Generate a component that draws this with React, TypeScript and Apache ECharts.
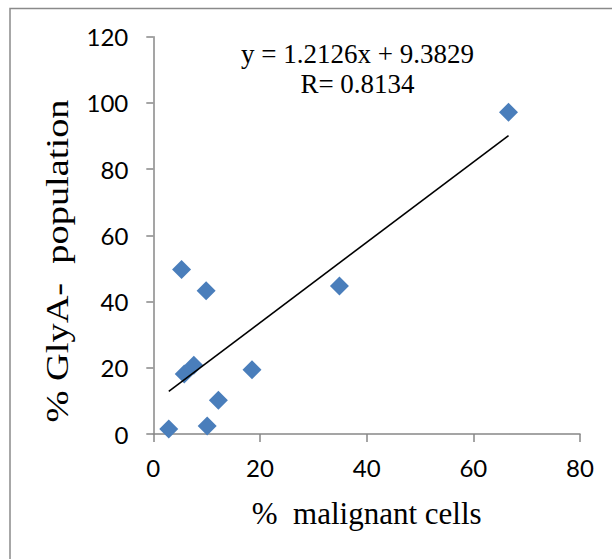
import React, { useEffect, useRef } from "react";
import * as echarts from "echarts";

// % malignant cells (x) and % GlyA- population (y)
const malignantPct = [2.9, 5.3, 9.9, 5.8, 7.6, 10.1, 12.2, 18.5, 34.9, 66.6];
const glyaNegPct = [1.5, 49.7, 43.3, 18.1, 20.8, 2.4, 10.2, 19.4, 44.7, 97.2];
const trendSlope = 1.2126;
const trendIntercept = 9.3829;
const rValue = 0.8134;
const xTicks = { min: 0, max: 80, interval: 20 };
const yTicks = { min: 0, max: 120, interval: 20 };

const xTitle = "%  malignant cells";
const yTitle = "% GlyA-  population";

export default function App() {
  const ref = useRef<HTMLDivElement>(null);
  useEffect(() => {
    if (!ref.current) return;
    const chart = echarts.init(ref.current, null, { renderer: "svg" });
    const points = malignantPct.map((x, i) => [x, glyaNegPct[i]]);
    const xMin = Math.min(...malignantPct);
    const xMax = Math.max(...malignantPct);
    const trend = [
      [xMin, trendSlope * xMin + trendIntercept],
      [xMax, trendSlope * xMax + trendIntercept],
    ];
    const axisColor = "#878787";
    chart.setOption({
      animation: false,
      backgroundColor: "#ffffff",
      grid: { left: 153.3, right: 32, top: 36.7, bottom: 125 },
      xAxis: {
        type: "value",
        min: xTicks.min,
        max: xTicks.max,
        interval: xTicks.interval,
        splitLine: { show: false },
        axisLine: { show: true, onZero: false, lineStyle: { color: axisColor, width: 1.5 } },
        axisTick: { show: true, length: 8, lineStyle: { color: axisColor, width: 1.5 } },
        axisLabel: { color: "#000", fontFamily: "Lato", fontSize: 24, margin: 21 },
        name: xTitle,
        nameLocation: "middle",
        nameGap: 64,
        nameTextStyle: { color: "#000", fontFamily: "Liberation Serif", fontSize: 31 },
      },
      yAxis: {
        type: "value",
        min: yTicks.min,
        max: yTicks.max,
        interval: yTicks.interval,
        splitLine: { show: false },
        axisLine: { show: true, onZero: false, lineStyle: { color: axisColor, width: 1.5 } },
        axisTick: { show: true, length: 7, lineStyle: { color: axisColor, width: 1.5 } },
        axisLabel: { color: "#000", fontFamily: "Lato", fontSize: 24, margin: 25 },
      },
      graphic: [
        {
          type: "rect",
          shape: { x: 10, y: 8.5, width: 700, height: 700 },
          style: { fill: "none", stroke: "#8a8a8a", lineWidth: 1.5 },
          silent: true,
        },
        {
          type: "text",
          x: 58,
          y: 261,
          rotation: Math.PI / 2,
          scaleX: 1.28,
          scaleY: 1.05,
          style: {
            text: yTitle,
            fill: "#000",
            font: "30px 'Liberation Serif'",
            align: "center",
            verticalAlign: "middle",
          },
        },
        {
          type: "text",
          x: 357.5,
          y: 54,
          style: {
            text: `y = ${trendSlope}x + ${trendIntercept}`,
            fill: "#000",
            font: "27px 'Liberation Serif'",
            align: "center",
            verticalAlign: "middle",
          },
        },
        {
          type: "text",
          x: 357.5,
          y: 84,
          style: {
            text: `R= ${rValue}`,
            fill: "#000",
            font: "27px 'Liberation Serif'",
            align: "center",
            verticalAlign: "middle",
          },
        },
      ],
      series: [
        {
          type: "scatter",
          data: points,
          symbol: "diamond",
          symbolSize: 19,
          itemStyle: { color: "#4A7EBB", opacity: 1 },
          z: 2,
        },
        {
          type: "line",
          data: trend,
          showSymbol: false,
          symbol: "none",
          lineStyle: { color: "#000", width: 1.6 },
          z: 3,
        },
      ],
    });
    return () => chart.dispose();
  }, []);
  return (
    <div
      ref={ref}
      style={{ position: "fixed", left: 0, top: 0, width: 612, height: 559 }}
    />
  );
}
